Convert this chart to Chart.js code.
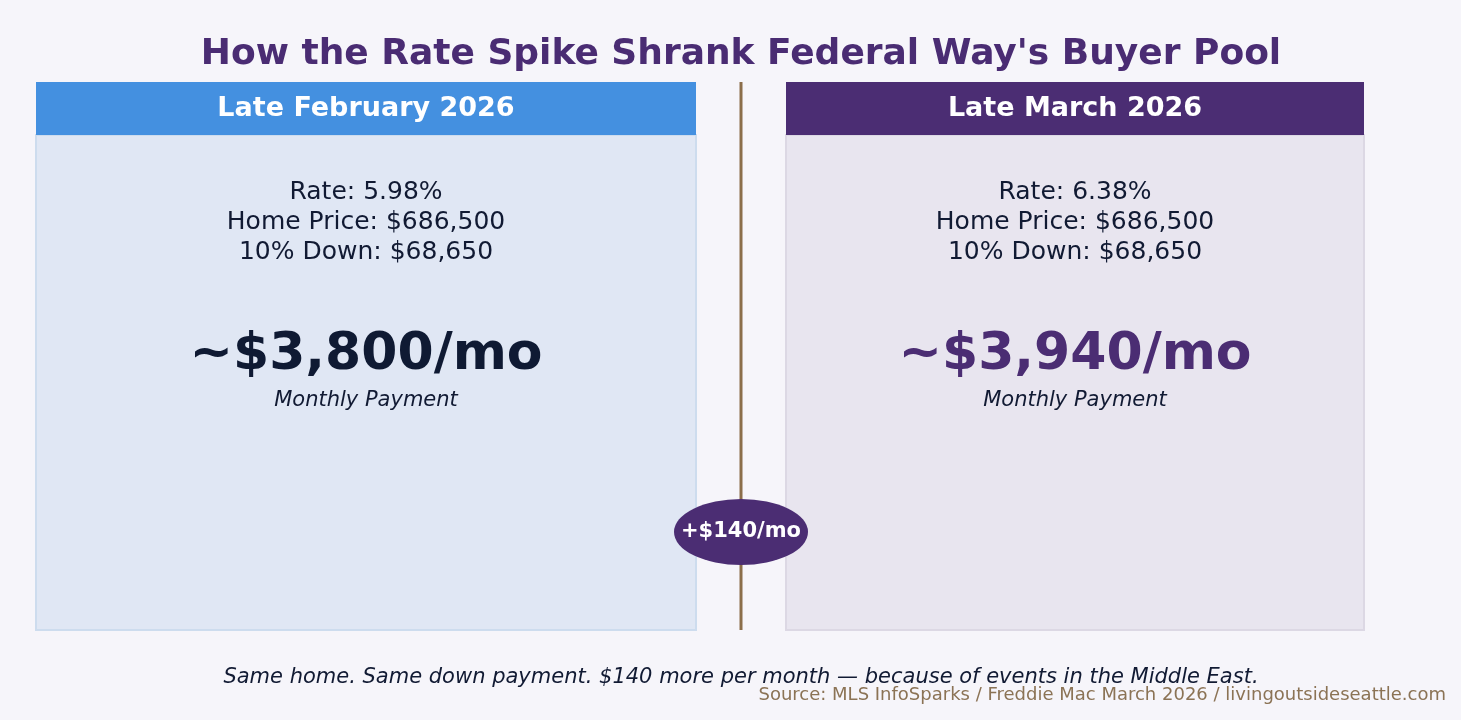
<!DOCTYPE html>
<html>
<head>
<meta charset="utf-8">
<script src="https://cdn.jsdelivr.net/npm/chart.js@4/dist/chart.umd.min.js"></script>
<style>
  html, body { margin: 0; padding: 0; background: #f6f5fa; }
  #wrap { width: 1461px; height: 720px; }
</style>
</head>
<body>
<div id="wrap"><canvas id="rate-chart"></canvas></div>
<script>
const periods = ['Late February 2026', 'Late March 2026'];
const rates = [5.98, 6.38];
const homePrices = [686500, 686500];
const downPayments = [68650, 68650];
const payments = [3800, 3940];
const paymentDiff = 140;
const headerColors = ['#4490e0', '#4b2d73'];
const bodyColors = ['#e0e7f4', '#e8e5ef'];
const valueColors = ['#0f1a33', '#4b2d73'];

const money = v => '$' + v.toLocaleString('en-US');
const FONT = '"DejaVu Sans", sans-serif';

// panel extents in page units (x from left, y from top)
const panels = [{ x0: 36, x1: 696 }, { x0: 786, x1: 1364 }];
const panelTop = 82, headerBottom = 135, panelBottom = 630, divX = 741;

const infographic = {
  id: 'infographic',
  beforeDraw(chart) {
    const ctx = chart.ctx;
    const sx = chart.scales.x, sy = chart.scales.y;
    const X = v => sx.getPixelForValue(v), Y = v => sy.getPixelForValue(v);
    ctx.save();
    ctx.fillStyle = '#f6f5fa';
    ctx.fillRect(0, 0, chart.width, chart.height);
    ctx.textAlign = 'center';
    ctx.textBaseline = 'middle';

    ctx.fillStyle = '#4a2c73';
    ctx.font = 'bold 36px ' + FONT;
    ctx.fillText("How the Rate Spike Shrank Federal Way's Buyer Pool", X(741), Y(55));

    panels.forEach((p, i) => {
      const cx = (X(p.x0) + X(p.x1)) / 2;
      ctx.fillStyle = bodyColors[i];
      ctx.fillRect(X(p.x0), Y(headerBottom), X(p.x1) - X(p.x0), Y(panelBottom) - Y(headerBottom));
      ctx.strokeStyle = i === 0 ? '#cddcee' : '#dcd8e4';
      ctx.lineWidth = 2;
      ctx.strokeRect(X(p.x0), Y(headerBottom), X(p.x1) - X(p.x0), Y(panelBottom) - Y(headerBottom));
      ctx.fillStyle = headerColors[i];
      ctx.fillRect(X(p.x0), Y(panelTop), X(p.x1) - X(p.x0), Y(headerBottom) - Y(panelTop));

      ctx.fillStyle = '#ffffff';
      ctx.font = 'bold 27px ' + FONT;
      ctx.fillText(periods[i], cx, Y(109));

      ctx.fillStyle = '#111a33';
      ctx.font = '25px ' + FONT;
      ctx.fillText('Rate: ' + rates[i].toFixed(2) + '%', cx, Y(192));
      ctx.fillText('Home Price: ' + money(homePrices[i]), cx, Y(222));
      ctx.fillText('10% Down: ' + money(downPayments[i]), cx, Y(252));

      ctx.fillStyle = valueColors[i];
      ctx.font = 'bold 52px ' + FONT;
      ctx.fillText('~' + money(payments[i]) + '/mo', cx, Y(355));

      ctx.fillStyle = '#111a33';
      ctx.font = 'italic 21px ' + FONT;
      ctx.fillText('Monthly Payment', cx, Y(401));
    });

    ctx.strokeStyle = '#8b6e4a';
    ctx.lineWidth = 3;
    ctx.beginPath();
    ctx.moveTo(X(divX), Y(panelTop));
    ctx.lineTo(X(divX), Y(panelBottom));
    ctx.stroke();

    ctx.fillStyle = '#4b2d73';
    ctx.beginPath();
    ctx.ellipse(X(divX), Y(532), 67, 33, 0, 0, Math.PI * 2);
    ctx.fill();
    ctx.fillStyle = '#ffffff';
    ctx.font = 'bold 21px ' + FONT;
    ctx.fillText('+' + money(paymentDiff) + '/mo', X(divX), Y(532));

    ctx.fillStyle = '#111a33';
    ctx.font = 'italic 21px ' + FONT;
    ctx.fillText('Same home. Same down payment. ' + money(paymentDiff) +
      ' more per month \u2014 because of events in the Middle East.', X(741), Y(678));

    ctx.fillStyle = '#8b7355';
    ctx.font = '18px ' + FONT;
    ctx.textAlign = 'right';
    ctx.fillText('Source: MLS InfoSparks / Freddie Mac March 2026 / livingoutsideseattle.com', X(1446), Y(695));
    ctx.restore();
  }
};

new Chart(document.getElementById('rate-chart'), {
  type: 'scatter',
  data: { datasets: [{ data: [] }] },
  options: {
    animation: false,
    responsive: true,
    maintainAspectRatio: false,
    layout: { padding: 0 },
    plugins: { legend: { display: false }, tooltip: { enabled: false } },
    scales: {
      x: { type: 'linear', min: 0, max: 1461, display: false },
      y: { type: 'linear', min: 0, max: 720, reverse: true, display: false }
    }
  },
  plugins: [infographic]
});
</script>
</body>
</html>
